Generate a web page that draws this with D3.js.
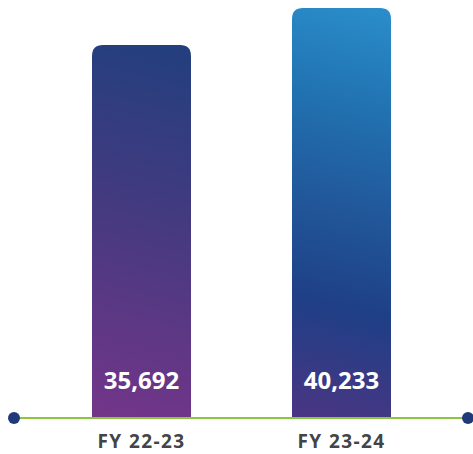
<!DOCTYPE html>
<html><head><meta charset="utf-8">
<script src="https://cdn.jsdelivr.net/npm/d3@7"></script>
<style>html,body{margin:0;padding:0;background:#fff;}svg{display:block;}</style>
</head><body>
<svg id="c" width="473" height="454"></svg>
<script>
const categories = ["FY 22-23", "FY 23-24"];
const values = [35692, 40233];
const valueLabels = ["35,692", "40,233"];

const svg = d3.select("#c");
const baseY = 418, bw = 99;
const xc = d3.scalePoint().domain(categories).range([141.5, 341.5]);
const y = d3.scaleLinear().domain([-10086, 40233]).range([baseY, 8]);

const defs = svg.append("defs");
const stops = [
  [["0","#223f7e"],["0.45","#443a80"],["1","#743589"]],
  [["0","#2a8eca"],["0.25","#2171b0"],["0.5","#215699"],["0.72","#1f3f86"],["1","#4b3583"]]
];

function topRounded(x0, y0, w, h, r){
  return `M${x0},${y0+h}V${y0+r}Q${x0},${y0} ${x0+r},${y0}H${x0+w-r}Q${x0+w},${y0} ${x0+w},${y0+r}V${y0+h}Z`;
}

categories.forEach((c,i)=>{
  const cx = xc(c), top = y(values[i]);
  const g = defs.append("linearGradient").attr("id","g"+i).attr("gradientUnits","userSpaceOnUse")
    .attr("x1", cx+bw/2).attr("y1", top).attr("x2", cx-bw/2).attr("y2", baseY);
  stops[i].forEach(([o,col])=>g.append("stop").attr("offset",o).attr("stop-color",col));
  svg.append("path").attr("d", topRounded(cx-bw/2, top, bw, baseY-top, 11)).attr("fill", `url(#g${i})`);
  svg.append("text").attr("x", cx).attr("y", 389).attr("text-anchor","middle")
    .attr("font-family","'Open Sans', sans-serif").attr("font-weight",700).attr("font-size",24)
    .attr("fill","#fff").text(valueLabels[i]);
  svg.append("text").attr("x", cx).attr("y", 448).attr("text-anchor","middle")
    .attr("font-family","'Open Sans', sans-serif").attr("font-weight",700).attr("font-size",19)
    .attr("letter-spacing","1.4px")
    .attr("fill","#444").text(c);
});

svg.append("line").attr("x1",14).attr("x2",468).attr("y1",baseY).attr("y2",baseY)
  .attr("stroke","#8cc63f").attr("stroke-width",2);
[14,468].forEach(cx=>svg.append("circle").attr("cx",cx).attr("cy",baseY).attr("r",6).attr("fill","#1f3a7a"));
</script>
</body></html>
